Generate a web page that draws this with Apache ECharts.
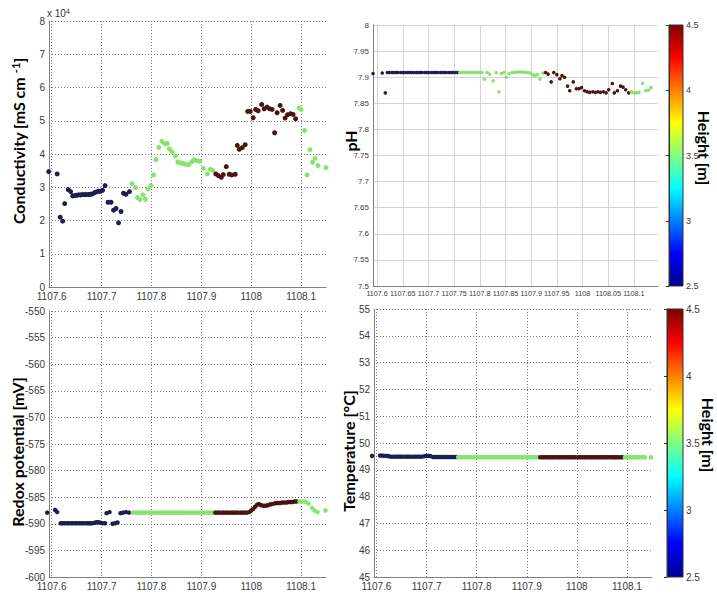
<!DOCTYPE html>
<html><head><meta charset="utf-8">
<script src="https://cdn.jsdelivr.net/npm/echarts@6/dist/echarts.min.js"></script>
<style>html,body{margin:0;padding:0;background:#fff}#c{width:717px;height:595px}</style>
</head><body><div id="c"></div>
<script>
// ---------- data ----------
const tlXTicks = [1107.6, 1107.7, 1107.8, 1107.9, 1108.0, 1108.1];
const trXTicks = [1107.6, 1107.65, 1107.7, 1107.75, 1107.8, 1107.85, 1107.9, 1107.95, 1108.0, 1108.05, 1108.1];
const heightBreaks = [1107.7595, 1107.9255, 1108.0925];
const heightLevels = [2.5, 3.5, 4.5, 3.5];

const condTime = [1107.594,1107.611,1107.617,1107.622,1107.626,1107.633,1107.638,1107.642,1107.646,1107.650,1107.654,1107.658,1107.662,1107.666,1107.670,1107.674,1107.678,1107.682,1107.686,1107.690,1107.694,1107.698,1107.702,1107.707,1107.713,1107.719,1107.724,1107.729,1107.734,1107.739,1107.744,1107.749,1107.756,
 1107.761,1107.768,1107.772,1107.777,1107.783,1107.788,1107.793,1107.799,1107.804,1107.809,1107.815,1107.821,1107.827,1107.832,1107.836,1107.841,1107.848,1107.853,1107.859,1107.864,1107.869,1107.875,1107.881,1107.886,1107.891,1107.897,1107.904,1107.912,1107.918,1107.923,
 1107.929,1107.934,1107.940,1107.944,1107.950,1107.956,1107.961,1107.968,1107.972,1107.976,1107.982,1107.988,1107.993,1107.998,1108.004,1108.009,1108.014,1108.021,1108.026,1108.032,1108.037,1108.042,1108.047,1108.052,1108.058,1108.063,1108.068,1108.073,1108.079,1108.084,1108.089,
 1108.096,1108.100,1108.107,1108.112,1108.118,1108.123,1108.128,1108.134,1108.150];
const condValue = [3.47,3.40,2.10,1.98,2.51,2.93,2.87,2.74,2.75,2.76,2.77,2.77,2.78,2.78,2.78,2.78,2.79,2.80,2.84,2.86,2.88,2.88,2.91,3.05,2.55,2.55,2.31,2.36,1.93,2.27,2.82,2.79,2.87,
 3.11,2.99,2.69,2.63,2.77,2.64,2.95,3.05,3.37,3.83,4.20,4.38,4.31,4.32,4.15,4.07,3.94,3.76,3.73,3.71,3.69,3.68,3.77,3.83,3.80,3.78,3.57,3.40,3.54,3.51,
 3.40,3.35,3.30,3.38,3.62,3.39,3.37,3.39,4.26,4.14,4.19,4.28,5.28,5.28,5.09,5.34,5.30,5.49,5.36,5.41,5.36,5.34,4.64,5.24,5.46,5.31,5.08,5.18,5.21,5.19,5.06,
 5.38,5.34,4.71,3.37,4.13,3.75,3.87,3.65,3.59];

const phTime = [1107.592,1107.610,1107.616,1107.620,1107.624,1107.629,1107.633,1107.637,1107.641,1107.646,1107.650,1107.654,1107.659,1107.663,1107.667,1107.671,1107.676,1107.680,1107.684,1107.688,1107.693,1107.697,1107.701,1107.706,1107.710,1107.714,1107.718,1107.723,1107.727,1107.731,1107.735,1107.740,1107.744,1107.748,1107.753,1107.757,
 1107.761,1107.765,1107.770,1107.774,1107.778,1107.782,1107.787,1107.791,1107.795,1107.799,1107.804,1107.809,1107.814,1107.819,1107.826,1107.832,1107.837,1107.842,1107.847,1107.852,1107.857,1107.863,1107.868,1107.873,1107.878,1107.883,1107.888,1107.893,1107.898,1107.903,1107.907,1107.912,1107.917,1107.923,
 1107.928,1107.933,1107.939,1107.944,1107.950,1107.956,1107.960,1107.965,1107.971,1107.975,1107.982,1107.988,1107.993,1107.998,1108.004,1108.009,1108.014,1108.020,1108.025,1108.030,1108.035,1108.041,1108.046,1108.051,1108.058,1108.062,1108.068,1108.074,1108.079,1108.084,1108.090,
 1108.095,1108.100,1108.105,1108.110,1108.117,1108.123,1108.128,1108.133];
const phValue = [7.907,7.908,7.870,7.909,7.909,7.909,7.909,7.909,7.909,7.909,7.909,7.909,7.909,7.909,7.909,7.909,7.909,7.909,7.909,7.909,7.909,7.909,7.909,7.909,7.909,7.909,7.909,7.909,7.909,7.909,7.909,7.909,7.909,7.909,7.909,7.909,
 7.909,7.909,7.909,7.909,7.909,7.909,7.909,7.909,7.909,7.909,7.909,7.896,7.909,7.906,7.893,7.909,7.872,7.907,7.909,7.900,7.907,7.909,7.909,7.910,7.910,7.910,7.909,7.909,7.908,7.905,7.903,7.905,7.896,7.908,
 7.909,7.906,7.891,7.909,7.905,7.897,7.903,7.900,7.883,7.874,7.891,7.878,7.878,7.880,7.874,7.872,7.871,7.872,7.871,7.872,7.871,7.872,7.870,7.876,7.888,7.870,7.874,7.883,7.881,7.876,7.870,
 7.872,7.870,7.870,7.871,7.888,7.874,7.875,7.880];

const redoxTime = [1107.591,1107.607,1107.611,1107.618,1107.622,1107.626,1107.631,1107.635,1107.639,1107.643,1107.648,1107.652,1107.656,1107.660,1107.664,1107.669,1107.673,1107.677,1107.681,1107.686,1107.690,1107.694,1107.698,1107.702,1107.707,1107.710,1107.716,1107.722,1107.727,1107.732,1107.738,1107.743,1107.749,1107.755,
 1107.763,1107.767,1107.771,1107.776,1107.780,1107.784,1107.788,1107.793,1107.797,1107.801,1107.805,1107.809,1107.814,1107.818,1107.822,1107.826,1107.831,1107.835,1107.839,1107.843,1107.847,1107.852,1107.856,1107.860,1107.864,1107.868,1107.873,1107.877,1107.881,1107.885,1107.890,1107.894,1107.898,1107.902,1107.906,1107.911,1107.915,1107.919,1107.923,
 1107.928,1107.932,1107.936,1107.941,1107.945,1107.949,1107.953,1107.958,1107.962,1107.966,1107.970,1107.974,1107.979,1107.983,1107.987,1107.991,1107.996,1108.000,1108.004,1108.008,1108.012,1108.016,1108.020,1108.025,1108.029,1108.033,1108.037,1108.041,1108.046,1108.050,1108.054,1108.058,1108.062,1108.066,1108.071,1108.075,1108.079,1108.083,1108.087,1108.091,
 1108.097,1108.101,1108.106,1108.110,1108.115,1108.122,1108.127,1108.133,1108.149];
const redoxValue = [-587.9,-587.4,-587.8,-589.9,-589.9,-589.9,-589.9,-589.9,-589.9,-589.9,-589.9,-589.9,-589.9,-589.9,-589.9,-589.9,-589.9,-589.9,-589.9,-589.8,-589.7,-589.7,-589.8,-589.9,-589.9,-588.0,-587.8,-590.0,-589.9,-589.75,-588.0,-587.9,-587.8,-587.9,
 -587.9,-587.9,-587.9,-587.9,-587.9,-587.9,-587.9,-587.9,-587.9,-587.9,-587.9,-587.9,-587.9,-587.9,-587.9,-587.9,-587.9,-587.9,-587.9,-587.9,-587.9,-587.9,-587.9,-587.9,-587.9,-587.9,-587.9,-587.9,-587.9,-587.9,-587.9,-587.9,-587.9,-587.9,-587.9,-587.9,-587.9,-587.9,-587.9,
 -587.9,-587.9,-587.9,-587.9,-587.9,-587.9,-587.9,-587.9,-587.9,-587.9,-587.9,-587.9,-587.9,-587.9,-587.9,-587.9,-587.8,-587.5,-587.2,-586.8,-586.4,-586.3,-586.5,-586.6,-586.6,-586.5,-586.4,-586.3,-586.2,-586.1,-586.1,-586.1,-586.0,-586.0,-586.0,-585.9,-585.9,-585.9,-585.8,-585.8,
 -585.8,-585.8,-585.8,-585.9,-586.2,-587.0,-587.5,-587.8,-587.5];

const tempTime = [1107.591,1107.607,1107.611,1107.615,1107.620,1107.624,1107.628,1107.632,1107.637,1107.641,1107.645,1107.649,1107.653,1107.658,1107.662,1107.666,1107.670,1107.675,1107.679,1107.683,1107.687,1107.691,1107.696,1107.700,1107.704,1107.708,1107.713,1107.717,1107.721,1107.725,1107.729,1107.734,1107.738,1107.742,1107.746,1107.750,1107.755,1107.759,
 1107.763,1107.767,1107.771,1107.776,1107.780,1107.784,1107.788,1107.793,1107.797,1107.801,1107.805,1107.809,1107.814,1107.818,1107.822,1107.826,1107.831,1107.835,1107.839,1107.843,1107.847,1107.852,1107.856,1107.860,1107.864,1107.868,1107.873,1107.877,1107.881,1107.885,1107.890,1107.894,1107.898,1107.902,1107.906,1107.911,1107.915,1107.919,1107.923,
 1107.927,1107.931,1107.935,1107.940,1107.944,1107.948,1107.952,1107.956,1107.961,1107.965,1107.969,1107.973,1107.977,1107.982,1107.986,1107.990,1107.994,1107.998,1108.003,1108.007,1108.011,1108.015,1108.019,1108.024,1108.028,1108.032,1108.036,1108.040,1108.045,1108.049,1108.053,1108.057,1108.061,1108.066,1108.070,1108.074,1108.078,1108.082,1108.087,1108.091,
 1108.096,1108.100,1108.104,1108.108,1108.112,1108.116,1108.120,1108.124,1108.128,1108.132,1108.136,1108.148];
const tempValue = [49.52,49.53,49.53,49.52,49.52,49.51,49.49,49.49,49.49,49.49,49.49,49.49,49.49,49.49,49.49,49.49,49.49,49.49,49.49,49.49,49.49,49.49,49.51,49.52,49.52,49.51,49.48,49.48,49.48,49.48,49.48,49.48,49.48,49.48,49.48,49.48,49.48,49.48,
 49.47,49.47,49.47,49.47,49.47,49.47,49.47,49.47,49.47,49.47,49.47,49.47,49.47,49.47,49.47,49.47,49.47,49.47,49.47,49.47,49.47,49.47,49.47,49.47,49.47,49.47,49.47,49.47,49.47,49.47,49.47,49.47,49.47,49.47,49.47,49.47,49.47,49.47,49.47,
 49.47,49.47,49.47,49.47,49.47,49.47,49.47,49.47,49.47,49.47,49.47,49.47,49.47,49.47,49.47,49.47,49.47,49.47,49.47,49.47,49.47,49.47,49.47,49.47,49.47,49.47,49.47,49.47,49.47,49.47,49.47,49.47,49.47,49.47,49.47,49.47,49.47,49.47,49.47,49.47,
 49.47,49.47,49.47,49.47,49.47,49.47,49.47,49.47,49.47,49.47,49.47,49.47];

// ---------- build ----------
function heightAt(t) {
  let i = 0;
  while (i < heightBreaks.length && t > heightBreaks[i]) i++;
  return heightLevels[i];
}
function pts(ts, vs) { return ts.map((t, i) => [t, vs[i], heightAt(t)]); }
const fmt = v => String(+(+v).toFixed(3));

const dotted = {color: '#7a7a7a', type: [1, 2], width: 1};
const lightGrid = {color: '#d4d4d4', type: 'solid', width: 1};
const axisCol = '#808080';
const labCol = '#3a3a3a';
const labFont = 'Liberation Sans';

function xAx(gi, min, max, ticks, fs, grid) {
  return {type: 'value', gridIndex: gi, min: min, max: max,
    axisLine: {show: true, onZero: false, lineStyle: {color: axisCol}},
    axisTick: {show: false, customValues: ticks},
    axisLabel: {customValues: ticks, fontSize: fs, color: labCol, margin: 4, fontFamily: labFont, formatter: fmt,
      interval: 0, hideOverlap: false, showMinLabel: true, showMaxLabel: true},
    splitLine: {show: true, lineStyle: grid}};
}
function yAx(gi, min, max, interval, fs, grid) {
  return {type: 'value', gridIndex: gi, min: min, max: max, interval: interval,
    axisLine: {show: true, onZero: false, lineStyle: {color: axisCol}},
    axisTick: {show: false},
    axisLabel: {fontSize: fs, color: labCol, margin: 4, fontFamily: labFont, formatter: fmt,
      showMinLabel: true, showMaxLabel: true},
    splitLine: {show: true, lineStyle: grid}};
}
const jet = () => new echarts.graphic.LinearGradient(0, 0, 0, 1, [
  {offset: 0, color: '#800000'}, {offset: 0.125, color: '#ff0000'}, {offset: 0.375, color: '#ffff00'},
  {offset: 0.5, color: '#80ff80'}, {offset: 0.625, color: '#00ffff'}, {offset: 0.875, color: '#0000ff'},
  {offset: 1, color: '#00008f'}]);
function cbY(gi, fs) {
  return {type: 'value', gridIndex: gi, position: 'right', min: 2.5, max: 4.5, interval: 0.5,
    axisLine: {show: true, lineStyle: {color: '#333'}},
    axisTick: {show: true, inside: true, length: 3, lineStyle: {color: '#333'}},
    axisLabel: {fontSize: fs, color: labCol, margin: 3, fontFamily: labFont, formatter: fmt,
      showMinLabel: true, showMaxLabel: true},
    splitLine: {show: false}};
}
function cbX(gi) { return {type: 'value', gridIndex: gi, min: 0, max: 1, show: false}; }
function sc(i, data, size) {
  return {type: 'scatter', xAxisIndex: i, yAxisIndex: i, data: data, symbolSize: size, clip: false,
    itemStyle: {opacity: 1}, animation: false};
}
const titleFont = 'bold 16px Lato';
function vtitle(x, y, text, rot) {
  return {type: 'text', x: x, y: y, rotation: rot, z: 100,
    style: {text: text, font: titleFont, fill: '#000', textAlign: 'center', textVerticalAlign: 'middle'}};
}

const chart = echarts.init(document.getElementById('c'), null, {renderer: 'svg'});
chart.setOption({
  animation: false,
  backgroundColor: '#fff',
  grid: [
    {left: 49, top: 21, width: 277, height: 266},
    {left: 373, top: 25, width: 285, height: 261},
    {left: 49, top: 311, width: 277, height: 266},
    {left: 374, top: 309, width: 278, height: 268},
    {left: 669, top: 25, width: 14, height: 261, show: true, borderColor: '#333', borderWidth: 1, backgroundColor: jet()},
    {left: 667, top: 309, width: 16, height: 268, show: true, borderColor: '#333', borderWidth: 1, backgroundColor: jet()}
  ],
  xAxis: [
    xAx(0, 1107.5946, 1108.150, tlXTicks, 10, dotted),
    xAx(1, 1107.592, 1108.147, trXTicks, 7.2, lightGrid),
    xAx(2, 1107.5946, 1108.150, tlXTicks, 10, dotted),
    xAx(3, 1107.595, 1108.150, tlXTicks, 10, dotted),
    cbX(4), cbX(5)
  ],
  yAxis: [
    yAx(0, 0, 8, 1, 10, dotted),
    yAx(1, 7.5, 8, 0.05, 8, lightGrid),
    yAx(2, -600, -550, 5, 10, dotted),
    yAx(3, 45, 55, 1, 10, dotted),
    cbY(4, 9), cbY(5, 10)
  ],
  visualMap: [{
    type: 'continuous', show: false, min: 2.5, max: 4.5, dimension: 2, seriesIndex: [0, 1, 2, 3],
    inRange: {color: ['#1e1f50', '#86e46e', '#4a1414']}
  }],
  series: [
    sc(0, pts(condTime, condValue), 5),
    sc(1, pts(phTime, phValue), 3.6),
    sc(2, pts(redoxTime, redoxValue), 4.5),
    sc(3, pts(tempTime, tempValue), 4.5)
  ],
  graphic: [
    {type: 'text', x: 18, y: 141, rotation: Math.PI / 2, z: 100,
      style: {text: '{a|Conductivity [mS cm }{s|-1}{a|]}', textAlign: 'center', textVerticalAlign: 'middle',
        rich: {a: {font: titleFont, fill: '#000'}, s: {font: 'bold 11px Lato', fill: '#000', verticalAlign: 'top'}}}},
    {type: 'text', x: 47, y: 13, z: 100,
      style: {text: '{a|x 10}{s|4}', textAlign: 'left', textVerticalAlign: 'middle',
        rich: {a: {font: '10px Liberation Sans', fill: '#333'}, s: {font: '7px Liberation Sans', fill: '#333', verticalAlign: 'top'}}}},
    vtitle(350, 141, 'pH', Math.PI / 2),
    vtitle(17, 452, 'Redox potential [mV]', Math.PI / 2),
    vtitle(348, 451, 'Temperature [°C]', Math.PI / 2),
    vtitle(704, 148, 'Height [m]', -Math.PI / 2),
    vtitle(708, 435, 'Height [m]', -Math.PI / 2)
  ]
});
</script></body></html>
